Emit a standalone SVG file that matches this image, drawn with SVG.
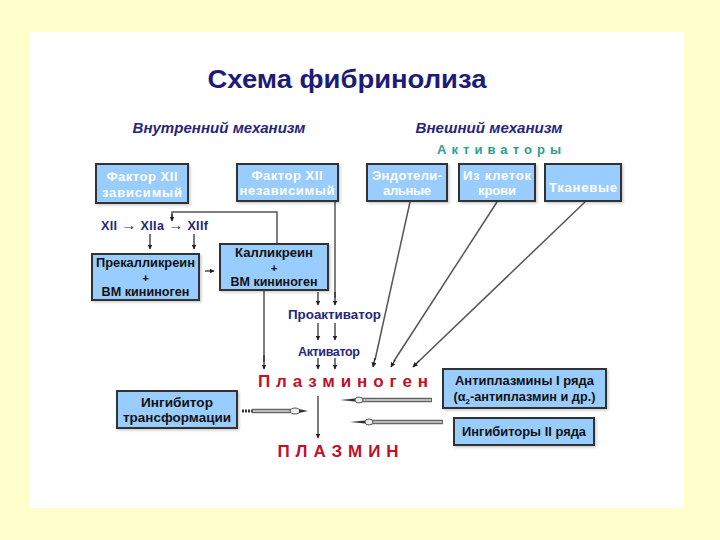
<svg xmlns="http://www.w3.org/2000/svg" width="720" height="540" viewBox="0 0 720 540">
<defs>
<marker id="ah" viewBox="0 0 10 10" refX="9" refY="5" markerWidth="5" markerHeight="5" orient="auto" markerUnits="userSpaceOnUse">
<path d="M0,0 L10,5 L0,10 z" fill="#222"/>
</marker>
<filter id="sh" x="-10%" y="-10%" width="130%" height="140%">
<feDropShadow dx="1.5" dy="1.5" stdDeviation="1" flood-color="#000" flood-opacity="0.2"/>
</filter>
</defs>
<style>
.box{fill:#99ccff;stroke:#333;stroke-width:2;filter:url(#sh)}
.wt{font-family:"Liberation Sans",Arial,sans-serif;font-weight:bold;font-size:13px;fill:#ffffff;text-anchor:middle}
.dt{font-family:"Liberation Sans",Arial,sans-serif;font-weight:bold;font-size:13px;fill:#111;text-anchor:middle}
.dts{font-family:"Liberation Sans",Arial,sans-serif;font-weight:bold;font-size:12.5px;fill:#111;text-anchor:middle}
.pl{font-family:"Liberation Sans",Arial,sans-serif;font-weight:bold;font-size:11.5px;fill:#111;text-anchor:middle}
.nv{font-family:"Liberation Sans",Arial,sans-serif;font-weight:bold;font-size:12.5px;fill:#26267e;text-anchor:middle}
.hd{font-family:"Liberation Sans",Arial,sans-serif;font-weight:bold;font-style:italic;font-size:14px;fill:#26267e;text-anchor:middle}
.red{font-family:"Liberation Sans",Arial,sans-serif;font-weight:bold;font-size:17px;fill:#c0102a;text-anchor:middle}
.ln{stroke:#555;stroke-width:1.5;fill:none}
.ar{stroke:#222;stroke-width:1.2;fill:none;marker-end:url(#ah)}
.tube{stroke:#666;stroke-width:4.5;fill:none}
.core{stroke:#d8d8d8;stroke-width:1.6;fill:none}
.bulge{fill:#eeeeee;stroke:#555;stroke-width:1}
.tip{fill:#333}
</style>
<rect width="720" height="540" fill="#ffffcc"/>
<rect x="30" y="32" width="654" height="476" fill="#ffffff"/>

<text x="347" y="88" font-family="'Liberation Sans',Arial,sans-serif" font-weight="bold" font-size="25" fill="#1c1c78" text-anchor="middle" textLength="279" lengthAdjust="spacingAndGlyphs">Схема фибринолиза</text>
<text class="hd" x="219" y="133" textLength="173" lengthAdjust="spacingAndGlyphs">Внутренний механизм</text>
<text class="hd" x="489" y="133" textLength="147" lengthAdjust="spacingAndGlyphs">Внешний механизм</text>
<text x="499" y="154" font-family="'Liberation Sans',Arial,sans-serif" font-weight="bold" font-size="13" fill="#2a9d8f" text-anchor="middle" textLength="124" lengthAdjust="spacing">Активаторы</text>

<g id="connectors">
<polyline class="ln" points="277,244 277,212 172,212 172,220"/>
<line class="ar" x1="172" y1="214" x2="172" y2="221"/>
<line class="ar" x1="150" y1="234" x2="150" y2="249"/>
<line class="ar" x1="194" y1="234" x2="194" y2="249"/>
<line class="ar" x1="205" y1="271" x2="214" y2="271"/>
<line class="ln" x1="264" y1="290" x2="264" y2="362"/>
<line class="ar" x1="264" y1="355" x2="264" y2="369"/>
<line class="ar" x1="318" y1="292" x2="318" y2="305"/>
<line class="ln" x1="335" y1="201" x2="335" y2="298"/>
<line class="ar" x1="335" y1="292" x2="335" y2="305"/>
<line class="ar" x1="318" y1="323" x2="318" y2="340"/>
<line class="ar" x1="335" y1="323" x2="335" y2="340"/>
<line class="ar" x1="318" y1="358" x2="318" y2="369"/>
<line class="ar" x1="335" y1="358" x2="335" y2="369"/>
<line class="ln" x1="410" y1="202" x2="375" y2="360"/>
<line class="ar" x1="375" y1="358" x2="373" y2="367"/>
<line class="ln" x1="497" y1="202" x2="394" y2="361"/>
<line class="ar" x1="395" y1="360" x2="391" y2="367"/>
<line class="ln" x1="585" y1="202" x2="418" y2="362"/>
<line class="ar" x1="419" y1="361" x2="413" y2="367"/>
<line class="ar" x1="318" y1="396" x2="318" y2="438"/>
<line class="tube" x1="432" y1="400" x2="362" y2="400"/>
<line class="core" x1="431" y1="400" x2="363" y2="400"/>
<ellipse class="bulge" cx="359" cy="400" rx="4" ry="3"/>
<path class="tip" d="M355,398.5 L340,400 L355,401.5 z"/>
<line class="tube" x1="443" y1="422" x2="372" y2="422"/>
<line class="core" x1="442" y1="422" x2="373" y2="422"/>
<ellipse class="bulge" cx="369" cy="422" rx="4" ry="3"/>
<path class="tip" d="M365,420.5 L350,422 L365,423.5 z"/>
<line x1="242" y1="411" x2="252" y2="411" stroke="#333" stroke-width="3" stroke-dasharray="2,1"/>
<line class="tube" x1="252" y1="411" x2="291" y2="411"/>
<line class="core" x1="253" y1="411" x2="290" y2="411"/>
<ellipse class="bulge" cx="295" cy="411" rx="5" ry="3"/>
<path class="tip" d="M299,409 L308,411 L299,413 z"/>
</g>

<g id="n_f12dep"><rect class="box" x="96" y="164" width="92" height="39"/><text class="wt" x="142" y="181" textLength="71" lengthAdjust="spacing">Фактор XII</text><text class="wt" x="142" y="197" textLength="80" lengthAdjust="spacing">зависимый</text></g>
<g id="n_f12ind"><rect class="box" x="237" y="164" width="101" height="37"/><text class="wt" x="287" y="180" textLength="71" lengthAdjust="spacing">Фактор XII</text><text class="wt" x="287" y="195" textLength="95" lengthAdjust="spacing">независимый</text></g>
<g id="n_endo"><rect class="box" x="367" y="164" width="80" height="37"/><text class="wt" x="407" y="180" textLength="70" lengthAdjust="spacing">Эндотели-</text><text class="wt" x="407" y="195" textLength="48" lengthAdjust="spacing">альные</text></g>
<g id="n_blood"><rect class="box" x="459" y="164" width="76" height="37"/><text class="wt" x="497" y="180" textLength="68" lengthAdjust="spacing">Из клеток</text><text class="wt" x="497" y="195" textLength="38" lengthAdjust="spacing">крови</text></g>
<g id="n_tissue"><rect class="box" x="545" y="164" width="76" height="37"/><text class="wt" x="583" y="192" textLength="68" lengthAdjust="spacing">Тканевые</text></g>
<g id="n_chain"><text class="nv" x="154.5" y="230" textLength="107" lengthAdjust="spacing">XII <tspan font-size="15">→</tspan> XIIa <tspan font-size="15">→</tspan> XIIf</text></g>
<g id="n_prekal"><rect class="box" x="92" y="254" width="107" height="46"/><text class="dts" x="145.5" y="267" textLength="99" lengthAdjust="spacingAndGlyphs">Прекалликреин</text><text class="pl" x="145.5" y="281.5">+</text><text class="dts" x="145.5" y="296" textLength="88" lengthAdjust="spacingAndGlyphs">ВМ кининоген</text></g>
<g id="n_kal"><rect class="box" x="220" y="244" width="108" height="46"/><text class="dts" x="274" y="257" textLength="78" lengthAdjust="spacingAndGlyphs">Калликреин</text><text class="pl" x="274" y="271.5">+</text><text class="dts" x="274" y="286" textLength="87" lengthAdjust="spacingAndGlyphs">ВМ кининоген</text></g>
<g id="n_proact"><text class="nv" x="334.5" y="319" textLength="93" lengthAdjust="spacingAndGlyphs">Проактиватор</text></g>
<g id="n_act"><text class="nv" x="329" y="356" textLength="62" lengthAdjust="spacing">Активатор</text></g>
<g id="n_plg"><text class="red" x="343" y="387" textLength="170" lengthAdjust="spacing">Плазминоген</text></g>
<g id="n_plm"><text class="red" x="338" y="457" textLength="121" lengthAdjust="spacing">ПЛАЗМИН</text></g>
<g id="n_inhtr"><rect class="box" x="117" y="391" width="120" height="37"/><text class="dt" x="177" y="407" textLength="72" lengthAdjust="spacingAndGlyphs">Ингибитор</text><text class="dt" x="177" y="422" textLength="108" lengthAdjust="spacingAndGlyphs">трансформации</text></g>
<g id="n_anti1"><rect class="box" x="443" y="369" width="163" height="39"/><text class="dt" x="524.5" y="385" textLength="139" lengthAdjust="spacingAndGlyphs">Антиплазмины I ряда</text><text class="dt" x="524.5" y="401" textLength="142" lengthAdjust="spacingAndGlyphs">(α<tspan font-size="8" dy="3">2</tspan><tspan dy="-3">-антиплазмин и др.)</tspan></text></g>
<g id="n_inh2"><rect class="box" x="454" y="418" width="140" height="27"/><text class="dt" x="524" y="436" textLength="124" lengthAdjust="spacingAndGlyphs">Ингибиторы II ряда</text></g>
</svg>
